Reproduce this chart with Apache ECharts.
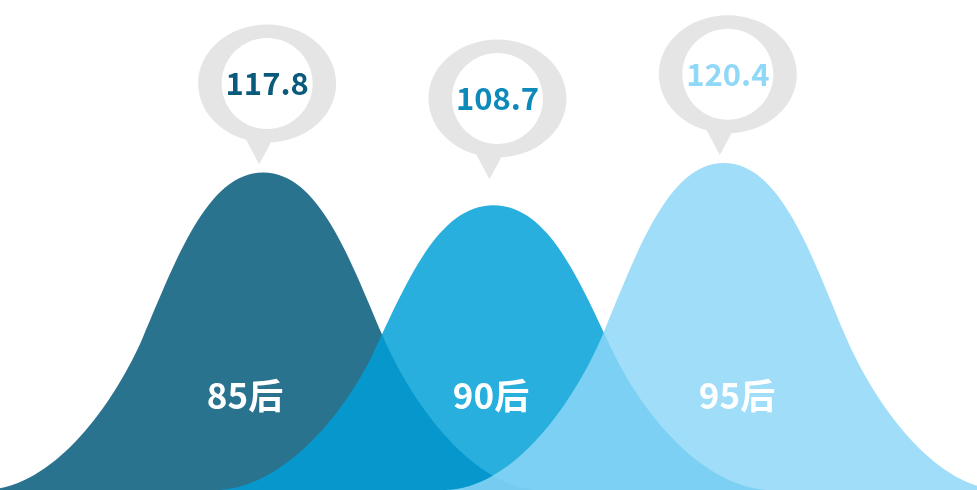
<!DOCTYPE html>
<html>
<head>
<meta charset="utf-8">
<style>
  html, body { margin: 0; padding: 0; background: #ffffff; }
  #chart { width: 977px; height: 490px; }
</style>
<script src="https://cdn.jsdelivr.net/npm/echarts@6/dist/echarts.min.js"></script>
</head>
<body>
<div id="chart"></div>
<script>
// Generations and their index values
const categories = ['85后', '90后', '95后'];
const values = [117.8, 108.7, 120.4];

// Styling per generation
const hillColors = ['#00587A', '#00A0D8', '#8DD7F7'];
const valueColors = ['#0a5a7c', '#0d8aba', '#8fd8f7'];
// How far each value bubble floats above its hill top (px)
const bubbleLift = [-78, -96, -78];

const fontFamily = '"Noto Sans CJK SC", "Noto Sans", sans-serif';

// Bell-shaped hill, unit box 200 x 100
const hillPath = 'path://M100,0 C120,0 131,27.4 143,52 C153,72.5 175,100 200,100 ' +
  'L0,100 C25,100 47,72.5 57,52 C69,27.4 80,0 100,0 Z';

// Speech-bubble ring with its pointer slightly left of centre
const bubblePath = 'path://M0,59 C0,26.4 30.9,0 69,0 C107.1,0 138,26.4 138,59 ' +
  'C138,91.6 107.1,118 69,118 C30.9,118 0,91.6 0,59 Z ' +
  'M44,108 L78,108 L61,139.7 Z ' +
  'M23.5,59 C23.5,84.1 43.9,104.5 69,104.5 C94.1,104.5 114.5,84.1 114.5,59 ' +
  'C114.5,33.9 94.1,13.5 69,13.5 C43.9,13.5 23.5,33.9 23.5,59 Z';

const chart = echarts.init(document.getElementById('chart'), null, { renderer: 'canvas' });

const option = {
  animation: false,
  backgroundColor: '#ffffff',
  grid: [
    { left: 148, right: 138, top: 56, bottom: -10 },
    { left: 122, right: 117, top: 0, bottom: 0 }
  ],
  xAxis: [
    { type: 'category', gridIndex: 0, data: categories, show: false },
    {
      type: 'category', gridIndex: 1, data: categories, z: 10,
      axisLine: { show: false }, axisTick: { show: false }, splitLine: { show: false },
      axisLabel: {
        inside: true, margin: 94, verticalAlign: 'middle',
        color: '#ffffff', fontSize: 35, fontWeight: 'bold', fontFamily: fontFamily
      }
    }
  ],
  yAxis: [
    { type: 'value', gridIndex: 0, min: 30, max: 150, startValue: 30, show: false },
    { type: 'value', gridIndex: 1, show: false }
  ],
  series: [{
    type: 'pictorialBar',
    xAxisIndex: 0,
    yAxisIndex: 0,
    barCategoryGap: '-143%',
    symbol: hillPath,
    symbolSize: ['100%', '100%'],
    data: values.map((v, i) => ({
      value: v,
      itemStyle: { color: hillColors[i], opacity: 0.84 }
    })),
    markPoint: {
      symbol: bubblePath,
      symbolSize: [138, 139.7],
      itemStyle: { color: '#e5e5e5', opacity: 1 },
      label: {
        show: true, position: 'inside', offset: [0, -10.85],
        fontSize: 31, fontWeight: 'bold', fontFamily: fontFamily,
        formatter: p => p.value
      },
      data: categories.map((c, i) => ({
        coord: [c, values[i]],
        value: values[i],
        symbolOffset: [4, bubbleLift[i]],
        label: { color: valueColors[i] }
      }))
    }
  }]
};

chart.setOption(option);
</script>
</body>
</html>
